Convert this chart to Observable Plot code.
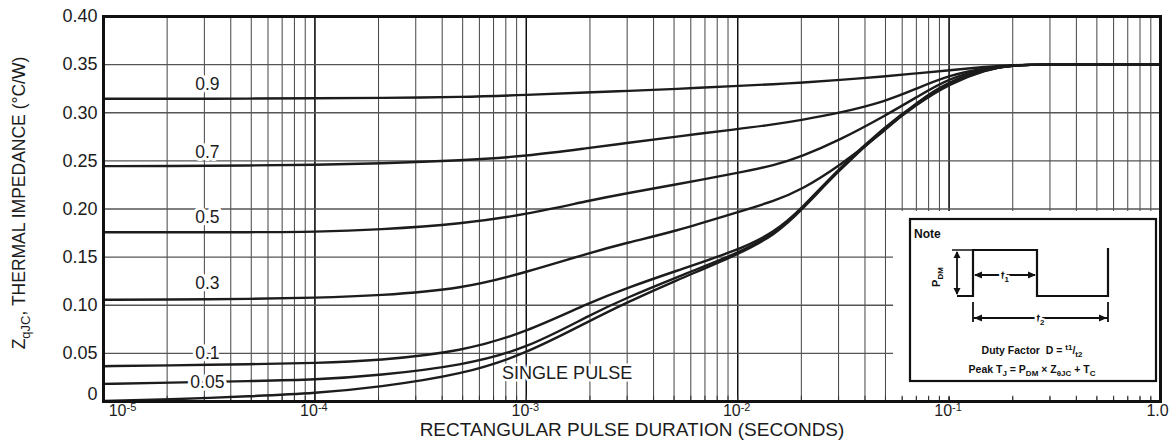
<!DOCTYPE html>
<html><head><meta charset="utf-8">
<script src="https://cdn.jsdelivr.net/npm/d3@7"></script>
<script src="https://cdn.jsdelivr.net/npm/@observablehq/plot@0.6"></script>
<style>
body{margin:0;background:#fff;}
#chart{width:1171px;height:443px;}
</style></head><body><div id="chart"></div>
<script>
// ---- data ----
const durations = [1e-5, 2e-5, 5e-5, 1e-4, 2e-4, 5e-4, 1e-3, 2e-3, 3e-3, 5e-3, 1e-2, 1.5e-2, 2e-2, 3e-2, 5e-2, 7e-2, 0.1, 0.15, 0.2, 0.3, 0.5, 1.0];
const duty09 = [0.3145, 0.3145, 0.3147, 0.3150, 0.3154, 0.3163, 0.3185, 0.3212, 0.3227, 0.3245, 0.3280, 0.3297, 0.3312, 0.3340, 0.3378, 0.3410, 0.3440, 0.3478, 0.3497, 0.3500, 0.3500, 0.3500];
const duty07 = [0.2445, 0.2447, 0.2452, 0.2459, 0.2472, 0.2504, 0.2549, 0.2636, 0.2685, 0.2750, 0.2830, 0.2880, 0.2925, 0.2995, 0.3117, 0.3250, 0.3390, 0.3468, 0.3497, 0.3500, 0.3500, 0.3500];
const duty05 = [0.1758, 0.1758, 0.1759, 0.1761, 0.1784, 0.1846, 0.1943, 0.2090, 0.2165, 0.2250, 0.2375, 0.2455, 0.2545, 0.2710, 0.2971, 0.3160, 0.3360, 0.3462, 0.3497, 0.3500, 0.3500, 0.3500];
const duty03 = [0.1057, 0.1058, 0.1065, 0.1077, 0.1100, 0.1170, 0.1343, 0.1545, 0.1650, 0.1765, 0.1967, 0.2085, 0.2200, 0.2440, 0.2816, 0.3110, 0.3330, 0.3458, 0.3497, 0.3500, 0.3500, 0.3500];
const duty01 = [0.0367, 0.0375, 0.0388, 0.0398, 0.0426, 0.0520, 0.0720, 0.1030, 0.1180, 0.1350, 0.1570, 0.1760, 0.2000, 0.2420, 0.2860, 0.3100, 0.3320, 0.3455, 0.3497, 0.3500, 0.3500, 0.3500];
const duty005 = [0.0183, 0.0195, 0.0213, 0.0225, 0.0270, 0.0374, 0.0547, 0.0900, 0.1080, 0.1280, 0.1540, 0.1740, 0.1990, 0.2410, 0.2850, 0.3090, 0.3310, 0.3452, 0.3497, 0.3500, 0.3500, 0.3500];
const singlePulse = [0.0005, 0.0020, 0.0055, 0.0085, 0.0149, 0.0280, 0.0496, 0.0840, 0.1030, 0.1250, 0.1525, 0.1730, 0.1985, 0.2400, 0.2845, 0.3085, 0.3300, 0.3450, 0.3497, 0.3500, 0.3500, 0.3500];
const seriesNames = ["0.9", "0.7", "0.5", "0.3", "0.1", "0.05", "SINGLE PULSE"];
const seriesValues = [duty09, duty07, duty05, duty03, duty01, duty005, singlePulse];

const yTicks = [0, 0.05, 0.10, 0.15, 0.20, 0.25, 0.30, 0.35, 0.40];
const yTickLabels = ["0", "0.05", "0.10", "0.15", "0.20", "0.25", "0.30", "0.35", "0.40"];
const xDecades = [1e-5, 1e-4, 1e-3, 1e-2, 1e-1, 1];
const xDecadeBase = ["10", "10", "10", "10", "10", "1.0"];
const xDecadeExp = ["-5", "-4", "-3", "-2", "-1", ""];

const xTitle = "RECTANGULAR PULSE DURATION (SECONDS)";
const yTitleMain = "Z", yTitleSub = "qJC", yTitleRest = ", THERMAL IMPEDANCE (°C/W)";

// ---- layout / style (not data) ----
const FONT = "'Liberation Sans', Arial, Helvetica, sans-serif";
const INK = "#1c1c1c";
const labelT = 3.1e-5;                 // where duty labels sit
const labelDy = [-14, -14, -15, -16, -12.5, -1];
const singleLabelPos = {t: 1.56e-3, v: 0.0291};
const insetCover = {x1: 0.0546, x2: 1, y1: 0.0045, y2: 0.1974};

const rows = [];
seriesNames.forEach((name, s) => durations.forEach((t, i) => rows.push({series: name, t, v: seriesValues[s][i]})));

const minorGrid = [];
for (let e = -5; e < 0; e++) for (let k = 1; k <= 9; k++) minorGrid.push(k * Math.pow(10, e));
minorGrid.push(1);

const dutyLabelRows = seriesNames.slice(0, 6).map((name, i) => ({name, t: labelT, v: seriesValues[i][0], dy: labelDy[i]}));

const textStyle = {fontFamily: FONT, fill: INK};

const plot = Plot.plot({
  width: 1171, height: 443,
  marginLeft: 103, marginRight: 11, marginTop: 16, marginBottom: 42,
  style: {fontFamily: FONT, background: "#fff", overflow: "visible"},
  x: {type: "log", domain: [1e-5, 1], axis: null},
  y: {domain: [0, 0.40], axis: null},
  marks: [
    Plot.ruleX(minorGrid, {x: d => d, stroke: "#444", strokeWidth: 1}),
    Plot.ruleX(xDecades, {x: d => d, stroke: "#111", strokeWidth: 1.4}),
    Plot.ruleY(yTicks.filter(v => v > 0 && v < 0.4), {y: d => d, stroke: "#555", strokeWidth: 1.3}),
    Plot.rect([insetCover], {x1: "x1", x2: "x2", y1: "y1", y2: "y2", fill: "#fff"}),
    Plot.ruleX(minorGrid, {x: d => d, y1: () => 0, y2: () => 0.0055, stroke: "#333", strokeWidth: 1}),
    Plot.line(rows, {x: "t", y: "v", z: "series", curve: "basis", stroke: INK, strokeWidth: 2.4}),
    ...dutyLabelRows.map(r => Plot.text([r], {x: "t", y: "v", text: "name", dy: r.dy, fontSize: 17.5, stroke: "#fff", strokeWidth: 6, ...textStyle})),
    Plot.text([singleLabelPos], {x: "t", y: "v", text: () => seriesNames[6], fontSize: 18, stroke: "#fff", strokeWidth: 5, ...textStyle}),
    Plot.frame({stroke: "#111", strokeWidth: 3}),
    // y tick labels
    Plot.text(yTicks.slice(1), {y: d => d, text: (d, i) => yTickLabels[i + 1], frameAnchor: "left", textAnchor: "end", dx: -6, fontSize: 18, ...textStyle}),
    Plot.text(yTicks.slice(0, 1), {y: d => d, text: () => yTickLabels[0], frameAnchor: "left", textAnchor: "end", dx: -6, dy: -7, fontSize: 18, ...textStyle}),
    // x tick labels: first, middle, last
    Plot.text(xDecades.slice(0, 1), {x: d => d, text: () => xDecadeBase[0], frameAnchor: "bottom", textAnchor: "end", dx: 23, dy: 14, fontSize: 16, ...textStyle}),
    Plot.text(xDecades.slice(0, 1), {x: d => d, text: () => xDecadeExp[0], frameAnchor: "bottom", textAnchor: "start", dx: 23, dy: 9, fontSize: 11, ...textStyle}),
    Plot.text(xDecades.slice(1, 5), {x: d => d, text: (d, i) => xDecadeBase[i + 1], frameAnchor: "bottom", textAnchor: "end", dx: 3, dy: 14, fontSize: 16, ...textStyle}),
    Plot.text(xDecades.slice(1, 5), {x: d => d, text: (d, i) => xDecadeExp[i + 1], frameAnchor: "bottom", textAnchor: "start", dx: 3, dy: 9, fontSize: 11, ...textStyle}),
    Plot.text(xDecades.slice(5), {x: d => d, text: () => xDecadeBase[5], frameAnchor: "bottom", textAnchor: "middle", dx: -3, dy: 14, fontSize: 16, ...textStyle}),
    // x title
    Plot.text([xTitle], {frameAnchor: "bottom", text: d => d, dy: 34, fontSize: 19, ...textStyle})
  ]
});
document.getElementById("chart").appendChild(plot);

// ---- y title with subscript ----
const svg = d3.select(plot);
const yt = svg.append("text")
  .attr("transform", "translate(25,203) rotate(-90)")
  .attr("text-anchor", "middle")
  .attr("fill", INK)
  .style("font-family", FONT).style("font-size", "17.5px");
yt.append("tspan").text(yTitleMain);
yt.append("tspan").attr("dy", 5).style("font-size", "13px").text(yTitleSub);
yt.append("tspan").attr("dy", -5).text(yTitleRest);

// ---- inset note, anchored to plot frame bottom-right ----
const xs = plot.scale("x"), ys = plot.scale("y");
const R = xs.apply(1), B = ys.apply(0);
const g = svg.append("g").attr("fill", "none").attr("stroke", "#111");
g.append("rect").attr("x", R - 250).attr("y", B - 182).attr("width", 246).attr("height", 162)
  .attr("fill", "#fff").attr("stroke-width", 2.2);
const a = R - 203, b = R - 187, c = R - 123, d = R - 52, lo = B - 105, hi = B - 151;
g.append("path").attr("d", `M${a},${lo}H${b}V${hi}H${c}V${lo}H${d}V${hi - 2}`).attr("stroke-width", 2.2);
// PDM dimension
g.append("path").attr("d", `M${a - 5},${hi}H${b}`).attr("stroke-width", 1.5);
g.append("path").attr("d", `M${a},${hi + 2}V${lo - 2}`).attr("stroke-width", 1.8);
const tri = (pts) => g.append("path").attr("d", "M" + pts.map(p => p.join(",")).join("L") + "Z").attr("fill", "#111").attr("stroke", "none");
tri([[a, hi + 1], [a - 3.5, hi + 8], [a + 3.5, hi + 8]]);
tri([[a, lo - 1], [a - 3.5, lo - 8], [a + 3.5, lo - 8]]);
// t1
const yt1 = B - 126, yt2 = B - 83;
g.append("path").attr("d", `M${b + 2},${yt1}H${c - 2}`).attr("stroke-width", 1.8);
tri([[b + 1, yt1], [b + 9, yt1 - 3.5], [b + 9, yt1 + 3.5]]);
tri([[c - 1, yt1], [c - 9, yt1 - 3.5], [c - 9, yt1 + 3.5]]);
// t2
g.append("path").attr("d", `M${b},${yt2 - 16}V${yt2 + 4}M${d},${yt2 - 16}V${yt2 + 4}M${b},${yt2}H${d}`).attr("stroke-width", 1.8);
tri([[b + 1, yt2], [b + 9, yt2 - 3.5], [b + 9, yt2 + 3.5]]);
tri([[d - 1, yt2], [d - 9, yt2 - 3.5], [d - 9, yt2 + 3.5]]);

const txt = (x, y, anchor, size, rot) => svg.append("text").attr("x", x).attr("y", y)
  .attr("text-anchor", anchor).attr("fill", "#111")
  .attr("transform", rot ? `rotate(-90,${x},${y})` : null)
  .style("font-family", FONT).style("font-size", size + "px").style("font-weight", "bold");
txt(R - 246, B - 163, "start", 12).text("Note");
const p1 = txt(R - 220, B - 124, "middle", 11, true); p1.append("tspan").text("P"); p1.append("tspan").attr("dy", 3).style("font-size", "8px").text("DM");
const t1l = txt((b + c) / 2, yt1 + 4, "middle", 11).attr("stroke", "#fff").attr("stroke-width", 4).style("paint-order", "stroke");
t1l.append("tspan").text("t"); t1l.append("tspan").attr("dy", 3).style("font-size", "8px").text("1");
const t2l = txt((b + d) / 2, yt2 + 4, "middle", 11).attr("stroke", "#fff").attr("stroke-width", 4).style("paint-order", "stroke");
t2l.append("tspan").text("t"); t2l.append("tspan").attr("dy", 3).style("font-size", "8px").text("2");
const dl = txt(R - 128, B - 47, "middle", 10.5);
dl.append("tspan").text("Duty Factor  D = ");
dl.append("tspan").attr("dy", -4).style("font-size", "8px").text("t1");
dl.append("tspan").attr("dy", 4).text("/");
dl.append("tspan").attr("dy", 3).style("font-size", "8px").text("t2");
const pl = txt(R - 128, B - 28, "middle", 10.5);
pl.append("tspan").text("Peak T");
pl.append("tspan").attr("dy", 3).style("font-size", "8px").text("J");
pl.append("tspan").attr("dy", -3).text(" = P");
pl.append("tspan").attr("dy", 3).style("font-size", "8px").text("DM");
pl.append("tspan").attr("dy", -3).text(" × Z");
pl.append("tspan").attr("dy", 3).style("font-size", "8px").text("θJC");
pl.append("tspan").attr("dy", -3).text(" + T");
pl.append("tspan").attr("dy", 3).style("font-size", "8px").text("C");
</script>
</body></html>
